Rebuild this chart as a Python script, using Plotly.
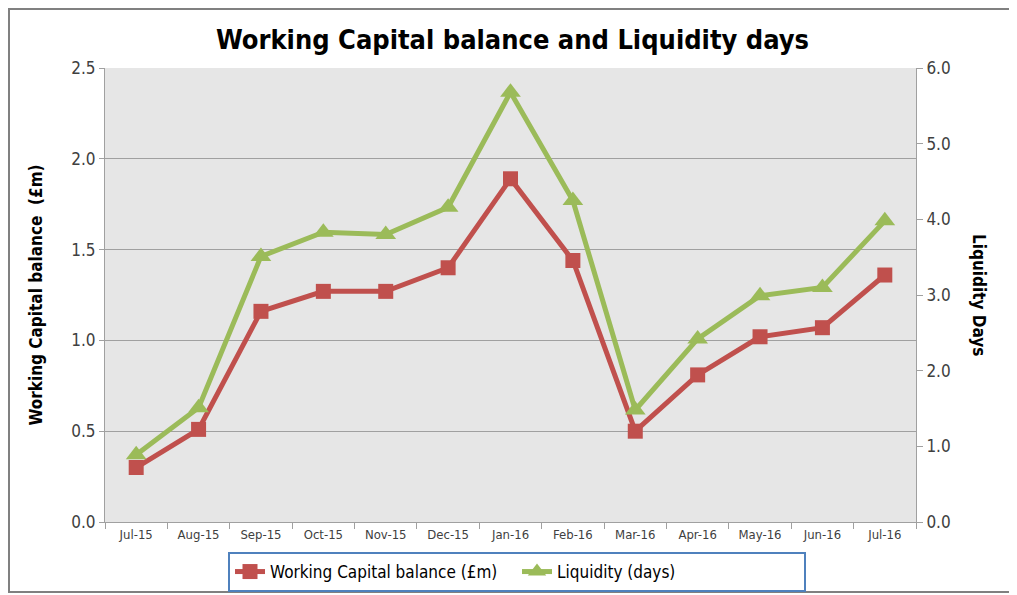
import plotly.graph_objects as go

months = ['Jul-15', 'Aug-15', 'Sep-15', 'Oct-15', 'Nov-15', 'Dec-15', 'Jan-16',
          'Feb-16', 'Mar-16', 'Apr-16', 'May-16', 'Jun-16', 'Jul-16']
wc_balance = [0.30, 0.51, 1.16, 1.27, 1.27, 1.40, 1.89, 1.44, 0.50, 0.81, 1.02, 1.07, 1.36]
liquidity_days = [0.89, 1.51, 3.51, 3.83, 3.80, 4.16, 5.68, 4.25, 1.48, 2.42, 2.99, 3.10, 3.98]

RED = '#c0504d'
GREEN = '#9bbb59'
TXT = '#404040'
FONT = 'DejaVu Sans Condensed'

# page body has an 8px margin, so the figure is drawn 8px smaller and offset
OFF = 8
W, H = 1017 - OFF, 595 - OFF
L, R, T, B = 105 - OFF, 101, 68 - OFF, 73
pw, ph = W - L - R, H - T - B


def px(x):
    return (x - OFF - L) / pw


def py(y):
    return (H - B - (y - OFF)) / ph


fig = go.Figure()

fig.add_trace(go.Scatter(
    x=months, y=wc_balance, name='Working Capital balance (£m)',
    mode='lines+markers',
    line=dict(color=RED, width=5),
    marker=dict(symbol='square', size=15, color=RED),
))

fig.add_trace(go.Scatter(
    x=months, y=liquidity_days, name='Liquidity (days)', yaxis='y2',
    mode='lines+markers',
    line=dict(color=GREEN, width=5),
    marker=dict(symbol='triangle-up', size=18, color=GREEN),
))

fig.update_layout(
    width=W, height=H,
    margin=dict(l=L, r=R, t=T, b=B, autoexpand=False),
    paper_bgcolor='white',
    plot_bgcolor='#e6e6e6',
    font=dict(family=FONT, color=TXT),
    title=dict(text='<b>Working Capital balance and Liquidity days</b>',
               x=0.5, xanchor='center', y=1 - (40 - OFF) / H, yanchor='middle',
               font=dict(size=27, color='black', family=FONT)),
    xaxis=dict(
        type='category', tickson='boundaries', ticks='outside', ticklen=6,
        tickcolor='#a0a0a0', showline=True, linecolor='#a0a0a0', linewidth=1,
        showgrid=False, tickfont=dict(size=13, color=TXT),
        range=[-0.5, 12.5], automargin=False,
    ),
    yaxis=dict(
        range=[0, 2.5], dtick=0.5, tickformat='.1f',
        showgrid=True, gridcolor='#a0a0a0', gridwidth=1,
        showline=True, linecolor='#a0a0a0', ticks='outside', ticklen=5,
        tickcolor='#a0a0a0', zeroline=False, automargin=False,
        tickfont=dict(size=17, color=TXT),
        title=dict(text='<b>Working Capital balance  (£m)</b>',
                   font=dict(size=17, color='black'), standoff=24),
    ),
    yaxis2=dict(
        range=[0, 6.0], dtick=1.0, tickformat='.1f', overlaying='y', side='right',
        showgrid=False, showline=True, linecolor='#a0a0a0', ticks='outside',
        ticklen=6, tickcolor='#a0a0a0', zeroline=False, automargin=False,
        tickfont=dict(size=17, color=TXT),
    ),
    legend=dict(
        orientation='h', x=px(517), xanchor='center', y=py(572), yanchor='middle',
        bordercolor='#4f81bd', borderwidth=2, bgcolor='white',
        font=dict(size=17, color='black'),
        entrywidth=242, entrywidthmode='pixels',
        tracegroupgap=0, itemwidth=30,
    ),
    showlegend=True,
    shapes=[dict(type='rect', xref='paper', yref='paper',
                 x0=px(9), x1=px(1011), y0=py(592), y1=py(9),
                 line=dict(color='#808080', width=2), layer='below')],
    annotations=[dict(text='<b>Liquidity Days</b>', textangle=90,
                      xref='paper', yref='paper', x=px(991), y=py(295),
                      showarrow=False, font=dict(size=17, color='black'))],
)

fig.write_html('out.html')
